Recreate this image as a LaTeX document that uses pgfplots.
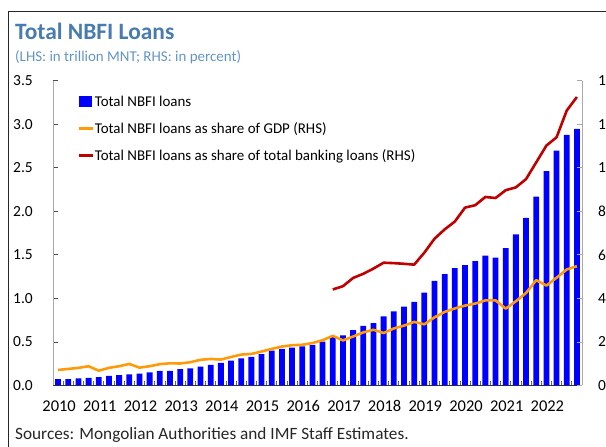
\documentclass[border=0pt]{standalone}
\usepackage{fontspec}
\setmainfont{Carlito}
\usepackage{pgfplots}
\pgfplotsset{compat=1.18}
\usepackage{pgfplotstable}
\definecolor{nbfiblue}{RGB}{0,0,255}
\definecolor{gdporange}{RGB}{255,155,10}
\definecolor{bankred}{RGB}{192,0,0}
\definecolor{titleblue}{RGB}{72,124,176}
\definecolor{subblue}{RGB}{98,148,198}
\definecolor{axgray}{RGB}{170,170,170}

\pgfplotstableread{
i loans gdp bank
0 0.072 0.715 nan
1 0.072 0.76 nan
2 0.083 0.81 nan
3 0.087 0.885 nan
4 0.095 0.68 nan
5 0.110 0.81 nan
6 0.118 0.885 nan
7 0.129 0.99 nan
8 0.136 0.82 nan
9 0.152 0.885 nan
10 0.167 0.98 nan
11 0.167 1.02 nan
12 0.187 1.01 nan
13 0.198 1.07 nan
14 0.217 1.18 nan
15 0.236 1.22 nan
16 0.260 1.19 nan
17 0.286 1.31 nan
18 0.310 1.42 nan
19 0.330 1.45 nan
20 0.360 1.56 nan
21 0.400 1.68 nan
22 0.420 1.79 nan
23 0.436 1.85 nan
24 0.450 1.87 nan
25 0.467 1.95 nan
26 0.505 2.08 nan
27 0.563 2.28 4.41
28 0.575 2.07 4.56
29 0.636 2.25 4.94
30 0.686 2.44 5.13
31 0.717 2.56 5.37
32 0.794 2.41 5.64
33 0.851 2.62 5.62
34 0.905 2.75 5.59
35 0.960 2.92 5.55
36 1.065 2.81 6.10
37 1.200 3.13 6.74
38 1.280 3.38 7.17
39 1.347 3.54 7.53
40 1.382 3.67 8.17
41 1.428 3.76 8.28
42 1.490 3.91 8.66
43 1.467 3.91 8.61
44 1.578 3.53 8.97
45 1.736 3.87 9.10
46 1.925 4.25 9.48
47 2.170 4.84 10.25
48 2.462 4.59 11.02
49 2.697 4.95 11.40
50 2.878 5.33 12.63
51 2.947 5.48 13.25
}\data

\begin{document}
\begin{tikzpicture}[x=1bp,y=1bp]
\useasboundingbox (0,0) rectangle (606,447);
\clip (0,0) rectangle (606,447);
% frame
\draw[line width=1.3bp, black!85] (8.5,0) -- (8.5,435.5) -- (610,435.5);
% titles
\node[anchor=base west, inner sep=0pt, text=titleblue, font=\fontsize{23.5}{26}\selectfont\bfseries] at (15,407.5) {Total NBFI Loans};
\node[anchor=base west, inner sep=0pt, text=subblue, font=\fontsize{15}{18}\selectfont] at (15,385) {(LHS: in trillion MNT; RHS: in percent)};
\node[anchor=base west, inner sep=0pt, text=black!85, font=\fontsize{17.3}{20}\selectfont] at (15,7.5) {Sources: Mongolian Authorities and IMF Staff Estimates.};

\begin{axis}[
  at={(53bp,61.5bp)}, anchor=south west,
  width=529bp, height=304.8bp, scale only axis,
  xmin=-0.5, xmax=51.5, ymin=0, ymax=3.5,
  axis x line*=bottom, axis y line*=left,
  x axis line style={black!80, line width=0.9bp},
  y axis line style={axgray, line width=0.9bp},
  tick align=inside,
  xtick={0,4,...,48},
  xticklabels={2010,2011,2012,2013,2014,2015,2016,2017,2018,2019,2020,2021,2022},
  major x tick style={draw=none},
  minor xtick={-0.5,0.5,...,51.5},
  minor x tick style={black!60, line width=0.8bp},
  minor tick length=4bp,
  ytick={0,0.5,...,3.5},
  yticklabels={0.0,0.5,1.0,1.5,2.0,2.5,3.0,3.5},
  major y tick style={black!70, line width=0.8bp},
  major tick length=5bp,
  /pgf/number format/assume math mode=true,
  xticklabel style={font=\fontsize{16.5}{19}\selectfont, inner sep=0pt, anchor=north, yshift=-15bp, xshift=1bp},
  yticklabel style={font=\fontsize{15.5}{18}\selectfont, inner sep=0pt, anchor=east, xshift=-20bp},
  legend style={at={(axis description cs:0,1)}, anchor=north west, xshift=24bp, yshift=-14bp,
    draw=none, fill=none, inner sep=0pt, row sep=12.5bp,
    font=\fontsize{15}{18}\selectfont, nodes={inner sep=1bp}},
  legend cell align=left,
]
\addplot[ybar, bar width=5.8bp, fill=nbfiblue, draw=none,
  legend image code/.code={\fill[nbfiblue] (0bp,-5.5bp) rectangle (13bp,5.5bp);}]
  table[x=i, y=loans]{\data};
\addlegendentry{Total NBFI loans}
\addlegendimage{legend image code/.code={\draw[gdporange, line width=2.6bp] (0bp,0bp) -- (14bp,0bp);}}
\addlegendentry{Total NBFI loans as share of GDP (RHS)}
\addlegendimage{legend image code/.code={\draw[bankred, line width=2.6bp] (0bp,0bp) -- (14bp,0bp);}}
\addlegendentry{Total NBFI loans as share of total banking loans (RHS)}
\end{axis}

\begin{axis}[
  at={(53bp,61.5bp)}, anchor=south west,
  width=529bp, height=304.8bp, scale only axis,
  xmin=-0.5, xmax=51.5, ymin=0, ymax=14,
  axis x line=none, axis y line*=right,
  y axis line style={axgray, line width=0.9bp},
  tick align=inside,
  ytick={0,2,...,14},
  major y tick style={axgray, line width=0.8bp},
  major tick length=5bp,
  /pgf/number format/assume math mode=true,
  yticklabel style={font=\fontsize{15.5}{18}\selectfont, inner sep=0pt, anchor=west, xshift=16bp},
]
\addplot[gdporange, line width=2.6bp, line join=round] table[x=i, y=gdp]{\data};
\addplot[bankred, line width=2.6bp, line join=round] table[x=i, y=bank]{\data};
\end{axis}
\end{tikzpicture}
\end{document}
